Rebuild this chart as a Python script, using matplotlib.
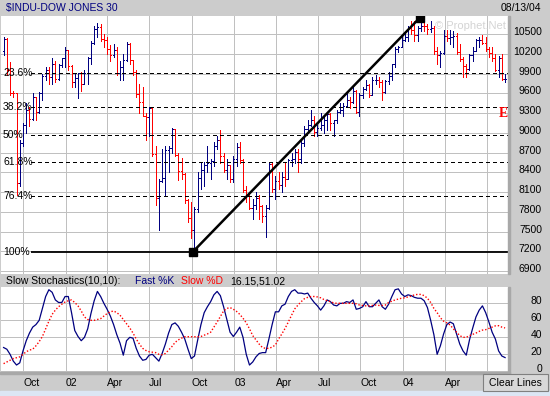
import matplotlib
matplotlib.use("Agg")
import matplotlib.pyplot as plt
import matplotlib.dates as mdates
import matplotlib.transforms as mtransforms
from matplotlib.patches import Rectangle
import pandas as pd

plt.rcParams["font.family"] = ["Liberation Sans", "DejaVu Sans"]

# weekly bars of $INDU, first week starts Monday 2001-08-20
first_week = "2001-08-20"
opens = [
    10240, 10423, 9950, 9606, 9605, 8236, 8848, 9120, 9344, 9204,
    9545, 9323, 9608, 9866, 9959, 9851, 10049, 9812, 10035, 10136,
    10259, 10017, 9771, 9840, 9907, 9744, 9903, 10145, 10368, 10572,
    10608, 10427, 10404, 10271, 10191, 10257, 9910, 10006, 10110, 10353,
    10105, 9925, 9589, 9474, 9253, 9243, 9379, 8684, 8019, 8264,
    8313, 8745, 8778, 9053, 8664, 8427, 8380, 7986, 7701, 7528,
    7850, 8322, 8444, 8518, 8538, 8579, 8805, 8896, 8645, 8433,
    8511, 8304, 8601, 8785, 8587, 8131, 8054, 7865, 7909, 8018,
    7891, 7740, 7859, 8522, 8145, 8277, 8203, 8337, 8306, 8583,
    8604, 8713, 8601, 8850, 9062, 9117, 9200, 9012, 9070, 9119,
    9189, 9284, 9153, 9191, 9321, 9349, 9416, 9503, 9471, 9644,
    9313, 9572, 9674, 9721, 9582, 9801, 9810, 9768, 9629, 9782,
    9862, 10042, 10278, 10305, 10409, 10458, 10600, 10568, 10488, 10593,
    10628, 10619, 10584, 10596, 10240, 10186, 10212, 10470, 10442, 10452,
    10472, 10226, 10117, 10012, 9967, 10188, 10242, 10410, 10417, 10371,
    10282, 10213, 10140, 9962, 10140, 9815,
]
highs = [
    10460, 10440, 10080, 9640, 9605, 8900, 9150, 9450, 9400, 9600,
    9550, 9620, 9900, 10000, 10000, 10140, 10100, 10050, 10140, 10300,
    10260, 10030, 9900, 9910, 9930, 9950, 10150, 10400, 10630, 10670,
    10650, 10500, 10450, 10330, 10350, 10300, 10100, 10200, 10380, 10370,
    10110, 9960, 9750, 9700, 9300, 9400, 9400, 8800, 8300, 8750,
    8800, 8800, 9080, 9060, 8690, 8620, 8390, 8000, 7950, 7880,
    8400, 8550, 8560, 8800, 8600, 8860, 8950, 9043, 8700, 8600,
    8520, 8650, 8850, 8860, 8600, 8200, 8100, 8000, 8100, 8050,
    7900, 7900, 8550, 8550, 8350, 8400, 8400, 8550, 8600, 8700,
    8750, 8750, 8900, 9100, 9200, 9350, 9250, 9120, 9300, 9250,
    9300, 9300, 9200, 9350, 9450, 9450, 9600, 9550, 9700, 9650,
    9600, 9700, 9800, 9750, 9850, 9880, 9850, 9800, 9800, 9920,
    10050, 10300, 10320, 10460, 10530, 10620, 10700, 10700, 10620, 10740,
    10753, 10650, 10700, 10620, 10300, 10250, 10570, 10570, 10570, 10550,
    10520, 10350, 10150, 10050, 10200, 10300, 10420, 10460, 10480, 10450,
    10300, 10300, 10200, 10170, 10200, 9900,
]
lows = [
    10180, 9880, 9580, 9540, 8062, 8200, 8800, 9000, 9100, 9200,
    9200, 9300, 9500, 9800, 9750, 9750, 9770, 9800, 10000, 10000,
    9950, 9700, 9700, 9530, 9630, 9740, 9750, 10050, 10350, 10450,
    10400, 10300, 10200, 10100, 10150, 9880, 9800, 9800, 10100, 10050,
    9880, 9550, 9300, 9250, 8900, 8950, 8650, 7900, 7532, 8250,
    8050, 8400, 8700, 8650, 8280, 8300, 7940, 7650, 7400, 7197,
    7800, 8150, 8200, 8400, 8300, 8500, 8750, 8550, 8400, 8300,
    8250, 8250, 8500, 8550, 8100, 7950, 7850, 7700, 7850, 7700,
    7650, 7416, 7850, 8100, 7990, 8150, 8100, 8200, 8300, 8500,
    8550, 8400, 8550, 8800, 9000, 9100, 8950, 8950, 9050, 9000,
    9050, 9050, 8950, 9150, 9300, 9250, 9400, 9380, 9450, 9300,
    9250, 9530, 9650, 9550, 9570, 9750, 9700, 9500, 9600, 9750,
    9800, 10000, 10230, 10300, 10400, 10400, 10500, 10400, 10400, 10550,
    10550, 10500, 10530, 10200, 10050, 10000, 10200, 10400, 10350, 10300,
    10200, 10100, 9850, 9850, 9950, 10100, 10240, 10300, 10350, 10250,
    10150, 10100, 9940, 9850, 9800, 9780,
]
closes = [
    10423, 9950, 9606, 9605, 8236, 8848, 9120, 9344, 9204, 9545,
    9323, 9608, 9866, 9959, 9851, 10049, 9812, 10035, 10136, 10259,
    10017, 9771, 9840, 9907, 9744, 9903, 10145, 10368, 10572, 10608,
    10427, 10404, 10271, 10191, 10257, 9910, 10006, 10110, 10353, 10105,
    9925, 9589, 9474, 9253, 9243, 9379, 8684, 8019, 8264, 8313,
    8745, 8778, 9053, 8664, 8427, 8380, 7986, 7701, 7528, 7850,
    8322, 8444, 8518, 8538, 8579, 8805, 8896, 8645, 8433, 8511,
    8304, 8601, 8785, 8587, 8131, 8054, 7865, 7909, 8018, 7891,
    7740, 7859, 8522, 8145, 8277, 8203, 8337, 8306, 8583, 8604,
    8713, 8601, 8850, 9062, 9117, 9200, 9012, 9070, 9119, 9189,
    9284, 9153, 9191, 9321, 9349, 9416, 9503, 9471, 9644, 9313,
    9572, 9674, 9721, 9582, 9801, 9810, 9768, 9629, 9782, 9862,
    10042, 10278, 10305, 10409, 10458, 10600, 10568, 10488, 10593, 10628,
    10619, 10584, 10596, 10240, 10186, 10212, 10470, 10442, 10452, 10472,
    10226, 10117, 10012, 9967, 10188, 10242, 10410, 10417, 10371, 10282,
    10213, 10140, 9962, 10140, 9815, 9826,
]

# slow stochastics (10,10), one value per weekly bar
fast_k = [
    28, 26, 20, 12, 7.4, 10, 24, 36, 45, 52,
    55, 60, 74, 88, 96, 93, 84, 81, 81, 88,
    88, 69, 48, 41, 36, 40, 50, 68, 83, 94,
    88, 80, 73, 65, 55, 43, 33, 19, 36, 40,
    39, 27, 18, 13, 14, 19, 20, 16, 12, 21,
    32, 45, 55, 57, 53, 46, 38, 26, 15, 18,
    37, 55, 69, 76, 82, 90, 94, 89, 76, 61,
    46, 41, 46, 52, 40, 20, 7.4, 11, 17, 21,
    22, 22, 38, 55, 70, 70, 77, 79, 88, 94,
    96, 92, 92, 91, 92, 86, 81, 77, 72, 77,
    84, 82, 78, 77, 80, 80, 82, 81, 84, 73,
    74, 76, 82, 76, 76, 80, 84, 76, 73, 79,
    88, 96, 97, 91, 88, 90, 89, 87, 86, 86,
    83, 75, 60, 43, 20, 30, 44, 55, 58, 56,
    44, 32, 24, 19, 37, 51, 64, 72, 77, 69,
    58, 46, 38, 24, 18, 16.15,
]
slow_d = [
    9, 11, 13, 15, 16, 17, 20, 23, 25, 26,
    30, 35, 41, 50, 59, 67, 72, 76, 79, 81.5,
    83, 84, 81, 77, 71, 64, 61, 60, 60, 61,
    62, 65, 68, 70, 71, 69, 66, 61, 56, 51,
    45, 38, 32, 27, 24.5, 23, 22.5, 22, 20, 19.5,
    21, 25, 29, 34, 37, 39, 40.7, 40.7, 40.7, 40.7,
    40.7, 41, 42.5, 44, 46, 52, 58, 64.5, 71, 74,
    75, 73, 70.5, 67, 62.5, 57, 50, 42, 37, 32,
    28, 27, 27, 28.5, 31, 38, 44, 50.5, 58, 66,
    73.5, 78, 82, 85.5, 87, 88, 88, 87.5, 86.5, 84.5,
    83, 82, 80.5, 80, 80, 80, 80, 80, 80, 79.5,
    78, 77.5, 77, 77, 77.5, 78, 77.5, 77.5, 78, 81,
    82.5, 84, 85, 86, 86.5, 87.5, 88.5, 90, 90.5, 90.5,
    89, 86, 81, 74, 69, 63, 59, 57, 54.5, 50,
    46, 42, 40, 40, 42, 43.5, 45, 47, 48.5, 49,
    50.5, 52, 53.5, 53.7, 52, 51.02,
]

tick_dates = ["2001-10-01", "2002-01-01", "2002-04-01", "2002-07-01",
              "2002-10-01", "2003-01-01", "2003-04-01", "2003-07-01",
              "2003-10-01", "2004-01-01", "2004-04-01", "2004-07-01"]
# the last quarter label sits under the "Clear Lines" button
tick_labels = ["Oct", "02", "Apr", "Jul", "Oct", "03", "Apr", "Jul",
               "Oct", "04", "Apr", ""]
price_ticks = [6900, 7200, 7500, 7800, 8100, 8400, 8700, 9000, 9300,
               9600, 9900, 10200, 10500]
stoch_ticks = [0, 20, 40, 60, 80]

# drawn tools: trend line low -> high and fibonacci retracement
trend_dates = ["2002-10-04", "2004-02-07"]
trend_prices = [7197, 10753]
fib_ratios = [0.236, 0.382, 0.5, 0.618, 0.764, 1.0]
fib_labels = ["23.6%", "38.2%", "50%", "61.8%", "76.4%", "100%"]
fib_start = "2001-10-18"

NAVY = "#000080"
RED = "#ff0000"
PANEL = "#cccccc"
GRID = "#c0c0c0"
W, H = 550, 396
PX = 0.72  # one pixel in points


def box(x0, y0, x1, y1):
    return [x0 / W, 1 - y1 / H, (x1 - x0) / W, (y1 - y0) / H]


fig = plt.figure(figsize=(W / 100, H / 100), dpi=100, facecolor=PANEL)
ax = fig.add_axes(box(1, 16, 508, 274))
ax2 = fig.add_axes(box(1, 287, 508, 372))

dates = pd.date_range(first_week, periods=len(closes), freq="7D")
xs = mdates.date2num(dates.values)
oct01 = mdates.date2num(pd.Timestamp("2001-10-01"))
x_left, x_right = oct01 - 47.6, oct01 + 1049.3

for a in (ax, ax2):
    a.set_xlim(x_left, x_right)
    a.set_xticks(mdates.date2num(pd.to_datetime(tick_dates)))
    a.tick_params(length=0, labelleft=False, labelbottom=False)
    a.grid(True, color=GRID, lw=PX, antialiased=False)
    a.set_axisbelow(True)
    for s in a.spines.values():
        s.set_visible(False)

# ---- price panel
ax.set_ylim(6857, 10776)
ax.set_yticks(price_ticks)

cols = [NAVY if closes[i] >= (closes[i - 1] if i else opens[i]) else RED
        for i in range(len(closes))]
tk = 2.2
ax.vlines(xs, lows, highs, colors=cols, lw=PX, antialiased=False)
ax.hlines(opens, xs - tk, xs, colors=cols, lw=PX, antialiased=False)
ax.hlines(closes, xs, xs + tk, colors=cols, lw=PX, antialiased=False)

lo, hi = trend_prices
fx0 = mdates.date2num(pd.Timestamp(fib_start))
ytr = ax.get_yaxis_transform()
for r, lab in zip(fib_ratios, fib_labels):
    lvl = hi - r * (hi - lo)
    if r == 1.0:
        ax.hlines(lvl, fx0, x_right, color="black", lw=1.3)
    else:
        ax.hlines(lvl, fx0, x_right, color="black", lw=PX,
                  linestyles=(0, (4, 3)), antialiased=False)
    ax.text(0.004, lvl, lab, transform=ytr, va="center", ha="left",
            fontsize=7.5)

ax.plot(mdates.date2num(pd.to_datetime(trend_dates)), trend_prices,
        color="black", lw=1.8, marker="s", ms=6, mfc="black", mec="black",
        solid_capstyle="butt", zorder=5)

ax.text(mdates.date2num(pd.Timestamp("2004-08-06")), 9300, "E", color=RED,
        fontweight="bold", family="Liberation Serif", fontsize=10,
        ha="center", va="center")
ax.text(0.996, 0.96, "\u00a9 Prophet.Net", transform=ax.transAxes,
        ha="right", va="center", fontsize=8, color="#d4d4d4")

up2 = mtransforms.ScaledTranslation(0, 0.02, fig.dpi_scale_trans)
lab_x = (542 - 1) / (508 - 1)
for p in price_ticks:
    ax.text(lab_x, p, str(p), transform=ytr + up2, ha="right", va="center",
            fontsize=7.5, clip_on=False)

# ---- stochastics panel
ax2.set_ylim(-0.8, 99.2)
ax2.set_yticks(stoch_ticks)
ax2.plot(xs, fast_k, color=NAVY, lw=0.9)
ax2.plot(xs, slow_d, color=RED, lw=1.0, ls=(0, (1, 1.4)))
ytr2 = ax2.get_yaxis_transform()
for v in stoch_ticks:
    ax2.text(lab_x, v, str(v), transform=ytr2 + up2, ha="right",
             va="center", fontsize=7.5, clip_on=False)

xtr2 = ax2.get_xaxis_transform()
for d, lab in zip(tick_dates, tick_labels):
    if lab:
        ax2.text(mdates.date2num(pd.Timestamp(d)), -0.13, lab,
                 transform=xtr2, ha="left", va="center", fontsize=7.5,
                 clip_on=False)

# ---- frame pieces, title bar and header texts
for (x0, y0, x1, y1) in [(508, 16, 510, 274), (508, 287, 510, 374),
                         (0, 372, 510, 374)]:
    fig.patches.append(Rectangle((x0 / W, 1 - y1 / H), (x1 - x0) / W,
                                 (y1 - y0) / H, transform=fig.transFigure,
                                 color="#a8a8a8", zorder=3))

fig.text(6 / W, 1 - 8 / H, "$INDU-DOW JONES 30", color=NAVY, fontsize=7.5,
         va="center", ha="left")
fig.text(541 / W, 1 - 8 / H, "08/13/04", color="black", fontsize=7.5,
         va="center", ha="right")

hy = 1 - 281 / H
fig.text(6.5 / W, hy, "Slow Stochastics(10,10):", fontsize=7.5, va="center")
fig.text(135 / W, hy, "Fast %K", color=NAVY, fontsize=7.5, va="center")
fig.text(181 / W, hy, "Slow %D", color=RED, fontsize=7.5, va="center")
fig.text(230 / W, hy, "16.15,51.02", fontsize=7.5, va="center")

# clear lines button and bottom strip
fig.patches.append(Rectangle((483 / W, 1 - 391 / H), 65 / W, 17 / H,
                             transform=fig.transFigure, facecolor="#d8d8d8",
                             edgecolor="#808080", lw=0.8, zorder=6))
fig.text(515.5 / W, 1 - 382.5 / H, "Clear Lines", fontsize=7.5, ha="center",
         va="center", zorder=7)
fig.patches.append(Rectangle((0, 0), 1, 5 / H, transform=fig.transFigure,
                             color="#dce6f4", zorder=3))

fig.savefig("out.png", dpi=100, facecolor=PANEL)
